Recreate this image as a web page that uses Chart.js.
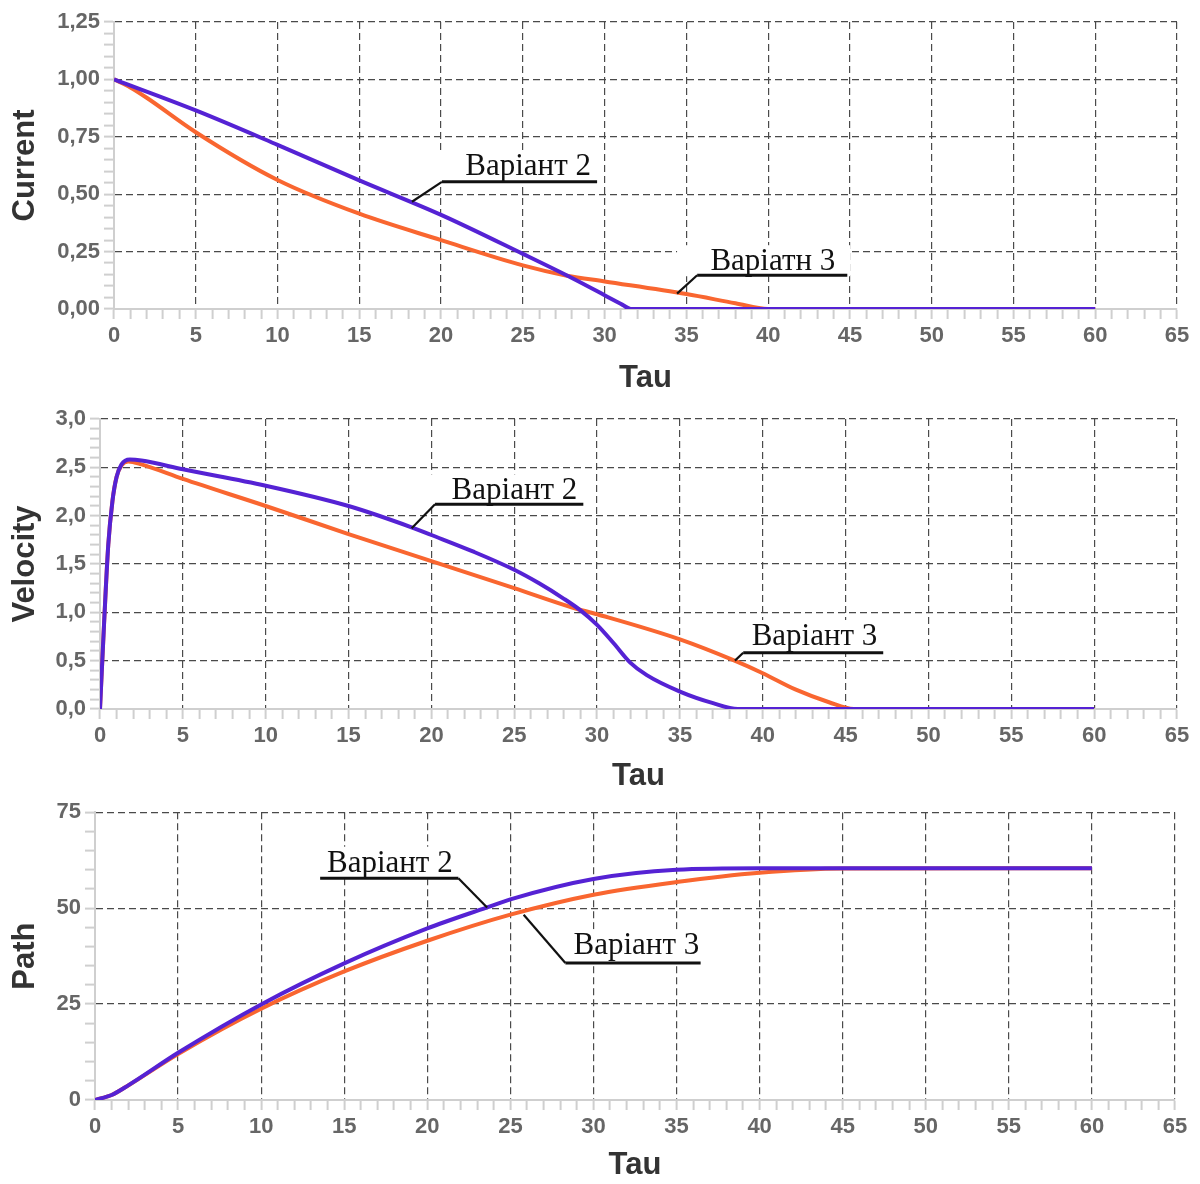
<!DOCTYPE html>
<html>
<head>
<meta charset="utf-8">
<script src="https://cdn.jsdelivr.net/npm/chart.js@4.4.1/dist/chart.umd.min.js"></script>
<style>
  html, body { margin: 0; padding: 0; background: #fff; overflow: hidden; }
  .wrap { position: absolute; left: 0; width: 1200px; }
  canvas { display: block; }
</style>
</head>
<body>
<div class="wrap" style="top:0px"><canvas id="c1" width="1200" height="400"></canvas></div>
<div class="wrap" style="top:400px"><canvas id="c2" width="1200" height="395"></canvas></div>
<div class="wrap" style="top:795px"><canvas id="c3" width="1200" height="389"></canvas></div>
<script>
// ---------- DATA ----------
// Current (chart 1)
const curTauV2 = [0, 5, 10, 15, 20, 25, 28, 30, 31.1, 31.6, 60];
const curV2    = [1.0, 0.865, 0.715, 0.56, 0.41, 0.24, 0.135, 0.06, 0.018, 0, 0];
const curTauV3 = [0, 1, 2, 5, 10, 15, 20, 25, 27.7, 30, 35, 38, 40, 60];
const curV3    = [1.0, 0.965, 0.92, 0.77, 0.562, 0.415, 0.30, 0.19, 0.145, 0.12, 0.065, 0.025, 0, 0];

// Velocity (chart 2)
const velTauV2 = [0, 0.25, 0.5, 0.75, 1.0, 1.3, 1.8, 2.5, 5, 10, 15, 18.8, 20, 22.5, 25, 26.5, 28, 29, 30, 31, 32, 33, 35, 37, 38.5, 60];
const velV2    = [0, 0.9, 1.7, 2.15, 2.4, 2.53, 2.58, 2.57, 2.48, 2.31, 2.10, 1.88, 1.80, 1.63, 1.44, 1.30, 1.14, 1.02, 0.87, 0.68, 0.48, 0.35, 0.18, 0.06, 0, 0];
const velTauV3 = [0, 0.25, 0.5, 0.75, 1.0, 1.3, 1.7, 2.5, 5, 10, 15, 20, 25, 28.5, 30, 35, 38.3, 40, 42, 44, 45.5, 60];
const velV3    = [0, 0.9, 1.7, 2.15, 2.4, 2.52, 2.56, 2.53, 2.38, 2.10, 1.81, 1.53, 1.25, 1.05, 0.98, 0.72, 0.50, 0.37, 0.2, 0.07, 0, 0];

// Path (chart 3)
const pathTauV2 = [0, 1, 2, 5, 10, 15, 20, 23.6, 25, 30, 35, 40, 60];
const pathV2    = [0, 1.3, 3.8, 12.3, 24.9, 35.6, 44.7, 50.2, 52.3, 57.6, 60.0, 60.4, 60.4];
const pathTauV3 = [0, 1, 2, 5, 10, 15, 20, 25, 30, 35, 40, 45, 60];
const pathV3    = [0, 1.3, 3.8, 12.0, 23.8, 33.5, 41.5, 48.3, 53.5, 56.8, 59.2, 60.3, 60.4];

// Axis ticks
const tauMin = 0, tauMax = 65, tauMinorStep = 1, tauMajorStep = 5;
const curMax = 1.25, curMinorStep = 0.05, curMajorStep = 0.25;
const velMax = 3.0, velMinorStep = 0.1, velMajorStep = 0.5;
const pathMax = 75, pathMinorStep = 5, pathMajorStep = 25;

const labelV2 = 'Варіант 2';
const labelV3 = 'Варіант 3';
const labelV3typo = 'Варіатн 3';

// ---------- STYLE ----------
const BLUE = '#5522d4';
const ORANGE = '#f96630';
const TICK_FONT = { family: 'Liberation Sans, Arial, sans-serif', size: 22, weight: 'bold' };
const TITLE_FONT = { family: 'Liberation Sans, Arial, sans-serif', size: 31, weight: 'bold' };
const ANNO_FONT = '31px "Liberation Serif", "Times New Roman", serif';

function pts(xs, ys) { return xs.map((x, i) => ({ x: x, y: ys[i] })); }
function isMult(v, step) { const r = v / step; return Math.abs(r - Math.round(r)) < 1e-6; }

const annoPlugin = {
  id: 'anno',
  afterDatasetsDraw(chart, args, opts) {
    const { ctx, scales: { x, y } } = chart;
    (opts.items || []).forEach(a => {
      const bx = x.getPixelForValue(a.tx), by = y.getPixelForValue(a.ty);
      const u1 = x.getPixelForValue(a.u1), u2 = x.getPixelForValue(a.u2), uy = y.getPixelForValue(a.uy);
      const px = x.getPixelForValue(a.px), py = y.getPixelForValue(a.py);
      const ax = a.fromRight ? u2 : u1;
      ctx.save();
      ctx.fillStyle = '#fff';
      const left = Math.min(u1, a.fromRight ? u1 : px + 2) - 2;
      ctx.fillRect(left, by - 25, u2 - left + 3, uy - (by - 25) + 1);
      ctx.font = ANNO_FONT;
      ctx.fillStyle = '#111';
      ctx.textBaseline = 'alphabetic';
      ctx.textAlign = 'left';
      ctx.fillText(a.text, bx, by);
      ctx.strokeStyle = '#111';
      ctx.lineWidth = 3;
      ctx.beginPath();
      ctx.moveTo(u1, uy); ctx.lineTo(u2, uy);
      ctx.stroke();
      ctx.lineWidth = 2.2;
      ctx.beginPath();
      ctx.moveTo(ax, uy); ctx.lineTo(px, py);
      ctx.stroke();
      ctx.restore();
    });
  }
};

function makeChart(id, cfg) {
  const xScale = {
    type: 'linear', min: tauMin, max: tauMax,
    afterFit: s => { s.height = cfg.xHeight; },
    ticks: {
      stepSize: tauMinorStep, autoSkip: false, maxRotation: 0, padding: 4,
      maxTicksLimit: 1000, color: '#666', font: TICK_FONT,
      callback: v => isMult(v, tauMajorStep) ? String(Math.round(v)) : ''
    },
    grid: {
      color: c => (c.tick && isMult(c.tick.value, tauMajorStep) && c.tick.value !== 0) ? '#4a4a4a' : 'rgba(0,0,0,0)',
      lineWidth: 1.2, tickColor: '#cfcfcf', tickLength: 10, tickWidth: 2
    },
    border: { display: true, color: '#cfcfcf', width: 2, dash: [7, 4] },
    title: { display: true, text: 'Tau', color: '#333', font: TITLE_FONT, padding: { top: 0, bottom: cfg.tauPad } }
  };
  const yScale = {
    type: 'linear', min: 0, max: cfg.yMax,
    afterFit: s => { s.width = cfg.yWidth; },
    ticks: {
      stepSize: cfg.yMinor, autoSkip: false, padding: 4, maxTicksLimit: 1000,
      color: '#666', font: TICK_FONT,
      callback: v => isMult(v, cfg.yMajor) ? cfg.fmt(v) : ''
    },
    grid: {
      color: c => (c.tick && isMult(c.tick.value, cfg.yMajor) && c.tick.value !== 0) ? '#4a4a4a' : 'rgba(0,0,0,0)',
      lineWidth: 1.2, tickColor: '#cfcfcf', tickLength: 10, tickWidth: 2
    },
    border: { display: true, color: '#cfcfcf', width: 2, dash: [7, 4] },
    title: { display: true, text: cfg.yTitle, color: '#333', font: TITLE_FONT, padding: { top: 7, bottom: 0 } }
  };
  return new Chart(document.getElementById(id), {
    type: 'line',
    data: {
      datasets: [
        { label: labelV2, data: pts(cfg.x2, cfg.y2), borderColor: BLUE, borderWidth: 4, pointRadius: 0, cubicInterpolationMode: 'monotone', fill: false },
        { label: labelV3, data: pts(cfg.x3, cfg.y3), borderColor: ORANGE, borderWidth: 4, pointRadius: 0, cubicInterpolationMode: 'monotone', fill: false }
      ]
    },
    options: {
      responsive: false, animation: false, devicePixelRatio: 1,
      layout: { padding: { left: 0, top: cfg.padTop, right: cfg.padRight, bottom: 0 } },
      plugins: { legend: { display: false }, tooltip: { enabled: false }, anno: { items: cfg.anno } },
      scales: { x: xScale, y: yScale }
    },
    plugins: [annoPlugin]
  });
}

makeChart('c1', {
  x2: curTauV2, y2: curV2, x3: curTauV3, y3: curV3,
  yMax: curMax, yMinor: curMinorStep, yMajor: curMajorStep,
  fmt: v => v.toFixed(2).replace('.', ','), yTitle: 'Current',
  yWidth: 114, xHeight: 91, padTop: 22, padRight: 23, tauPad: 3,
  anno: [
    { text: labelV2, tx: 21.48, ty: 0.583, u1: 20.05, u2: 29.54, uy: 0.554, px: 18.22, py: 0.467 },
    { text: labelV3typo, tx: 36.47, ty: 0.169, u1: 35.66, u2: 44.84, uy: 0.147, px: 34.43, py: 0.067 }
  ]
});

makeChart('c2', {
  x2: velTauV2, y2: velV2, x3: velTauV3, y3: velV3,
  yMax: velMax, yMinor: velMinorStep, yMajor: velMajorStep,
  fmt: v => v.toFixed(1).replace('.', ','), yTitle: 'Velocity',
  yWidth: 100, xHeight: 86, padTop: 19, padRight: 23, tauPad: 0,
  anno: [
    { text: labelV2, tx: 21.22, ty: 2.169, u1: 20.22, u2: 29.17, uy: 2.117, px: 18.81, py: 1.869 },
    { text: labelV3, tx: 39.33, ty: 0.662, u1: 38.82, u2: 47.27, uy: 0.582, px: 38.32, py: 0.50 }
  ]
});

makeChart('c3', {
  x2: pathTauV2, y2: pathV2, x3: pathTauV3, y3: pathV3,
  yMax: pathMax, yMinor: pathMinorStep, yMajor: pathMajorStep,
  fmt: v => String(Math.round(v)), yTitle: 'Path',
  yWidth: 95, xHeight: 84, padTop: 16, padRight: 25, tauPad: 0,
  anno: [
    { text: labelV2, tx: 13.96, ty: 59.5, u1: 13.55, u2: 21.87, uy: 57.77, px: 23.6, py: 50.17, fromRight: true },
    { text: labelV3, tx: 28.8, ty: 37.97, u1: 28.31, u2: 36.45, uy: 35.71, px: 25.8, py: 48.27 }
  ]
});
</script>
</body>
</html>
